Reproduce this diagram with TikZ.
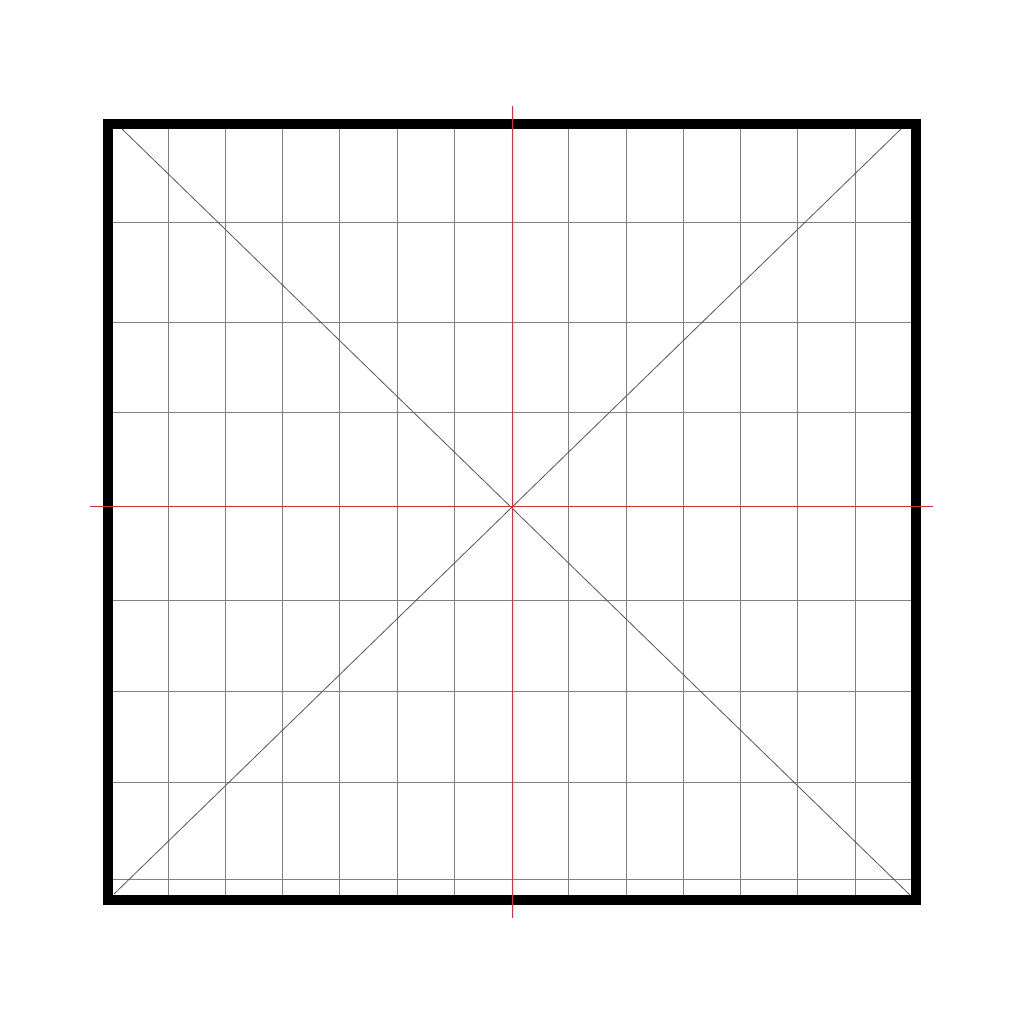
\documentclass[tikz,border=0pt]{standalone}
\usepackage{tikz}
\usetikzlibrary{calc}
\definecolor{gridgray}{RGB}{128,128,128}
\definecolor{diaggray}{RGB}{85,85,85}
\definecolor{axisred}{RGB}{210,50,60}
\tikzset{%
	frame/.style    = {draw=black, line width=10pt, line join=miter}, % outer square
	gridline/.style = {draw=gridgray, line width=0.9pt}, % thin grid
	diagline/.style = {draw=diaggray, line width=0.8pt}, % diagonals
	axisline/.style = {draw=axisred, line width=1pt}, % centre cross
}

\begin{document}
\begin{tikzpicture}[x=1pt,y=-1pt]
	\useasboundingbox (0,0) rectangle (1024,1024);
	% corners of the inner area
	\coordinate (tl) at (113,129);
	\coordinate (br) at (911,895);
	\coordinate (c) at (512,506.5);

	% vertical grid
	\foreach \k in {0,...,12} {
		\ifnum\k=6\else
			\draw[gridline] ({168+57.25*\k},129) -- ({168+57.25*\k},895);
		\fi
	}
	% horizontal grid
	\foreach \y in {222,322,412,600,691,782.5,879} {
		\draw[gridline] (113,\y) -- (911,\y);
	}

	% diagonals
	\coordinate (d1) at (122,129);
	\coordinate (d2) at (910,895);
	\coordinate (d3) at (901,129);
	\coordinate (d4) at (114,894);
	\draw[diagline] (d1) -- (d2);
	\draw[diagline] (d3) -- (d4);

	% frame
	\draw[frame] (108,124) rectangle (916,900);

	% centre cross
	\coordinate (vt) at (512,106);
	\coordinate (vb) at (512,918);
	\coordinate (hl) at (90,506.5);
	\coordinate (hr) at (933,506.5);
	\draw[axisline] (vt) -- (vb);
	\draw[axisline] (hl) -- (hr);
\end{tikzpicture}
\end{document}
